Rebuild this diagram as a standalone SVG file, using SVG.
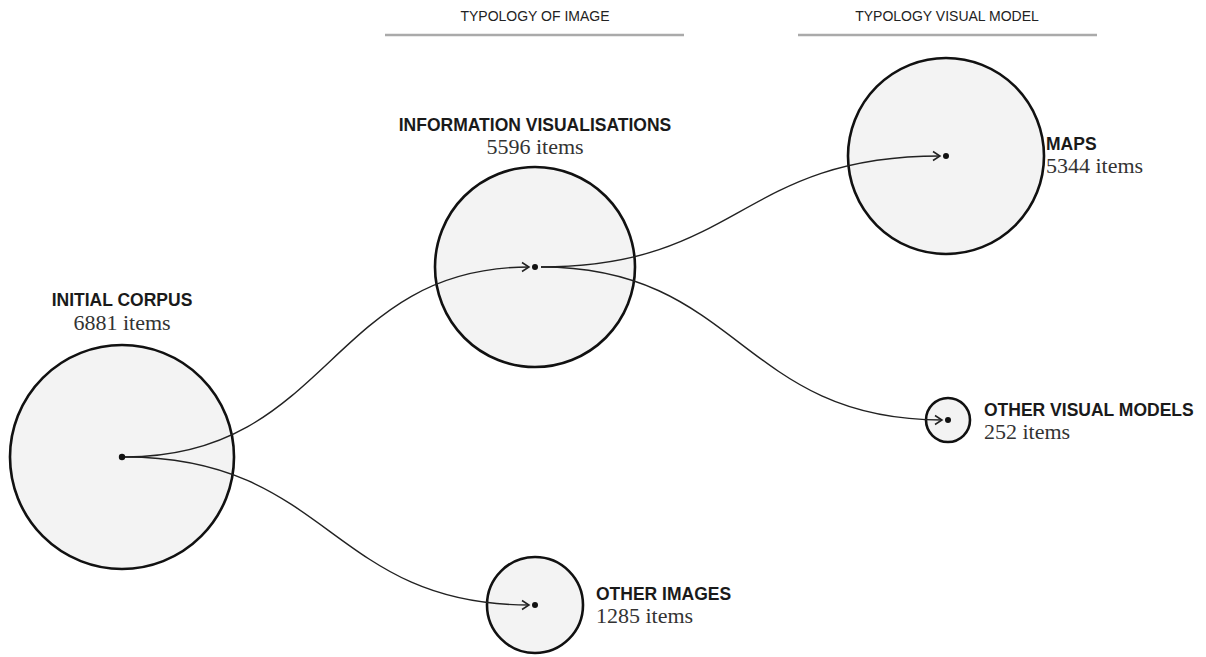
<svg xmlns="http://www.w3.org/2000/svg" width="1206" height="657" viewBox="0 0 1206 657">
<style>
.bg{fill:#fff}
.node{fill:#f3f3f3;stroke:#111;stroke-width:2.6}
.dot{fill:#111}
.title{font-family:"Liberation Sans",Arial,sans-serif;font-weight:bold;font-size:17.5px;fill:#1a1a1a}
.count{font-family:"Liberation Serif","DejaVu Serif",serif;font-size:22px;fill:#333}
.head{font-family:"Liberation Sans",Arial,sans-serif;font-size:14px;fill:#222;text-anchor:middle}
.rule{stroke:#aaa;stroke-width:2.5}
.link{fill:none;stroke:#222;stroke-width:1.4;marker-end:url(#arr)}
</style>
<defs>
<marker id="arr" viewBox="0 0 12 12" refX="10" refY="6" markerWidth="12" markerHeight="12" markerUnits="userSpaceOnUse" orient="auto">
<path d="M3,1.5 L10,6 L3,10.5" fill="none" stroke="#222" stroke-width="1.5"/>
</marker>
</defs>
<rect class="bg" width="1206" height="657"/>
<g id="headers">
<text class="head" x="535" y="21">TYPOLOGY OF IMAGE</text>
<line class="rule" x1="385" y1="35" x2="684" y2="35"/>
<text class="head" x="947" y="21">TYPOLOGY VISUAL MODEL</text>
<line class="rule" x1="798" y1="35" x2="1097" y2="35"/>
</g>
<g id="node-initial">
<circle class="node" cx="122" cy="457" r="112"/>
<text class="title" x="122" y="306" text-anchor="middle">INITIAL CORPUS</text>
<text class="count" x="122" y="330" text-anchor="middle">6881 items</text>
</g>
<g id="node-infovis">
<circle class="node" cx="535" cy="267" r="100"/>
<text class="title" x="535" y="131" text-anchor="middle">INFORMATION VISUALISATIONS</text>
<text class="count" x="535" y="154" text-anchor="middle">5596 items</text>
</g>
<g id="node-other-images">
<circle class="node" cx="535" cy="605" r="48"/>
<text class="title" x="596" y="600">OTHER IMAGES</text>
<text class="count" x="596" y="623">1285 items</text>
</g>
<g id="node-maps">
<circle class="node" cx="946" cy="156" r="98"/>
<text class="title" x="1046" y="150">MAPS</text>
<text class="count" x="1046" y="173">5344 items</text>
</g>
<g id="node-other-models">
<circle class="node" cx="948" cy="420" r="22"/>
<text class="title" x="984" y="416">OTHER VISUAL MODELS</text>
<text class="count" x="984" y="439">252 items</text>
</g>
<g id="connectors">
<path class="link" d="M125,457 C330,457 330,267 529,267"/>
<path class="link" d="M125,457 C330,457 330,605 529,605"/>
<path class="link" d="M541,267 C740,267 740,156 940,156"/>
<path class="link" d="M541,267 C740,267 740,420 942,420"/>
</g>
<g id="dots">
<circle class="dot" cx="122" cy="457" r="3.2"/>
<circle class="dot" cx="535" cy="267" r="3"/>
<circle class="dot" cx="535" cy="605" r="3"/>
<circle class="dot" cx="946" cy="156" r="3"/>
<circle class="dot" cx="948" cy="420" r="3"/>
</g>
</svg>
